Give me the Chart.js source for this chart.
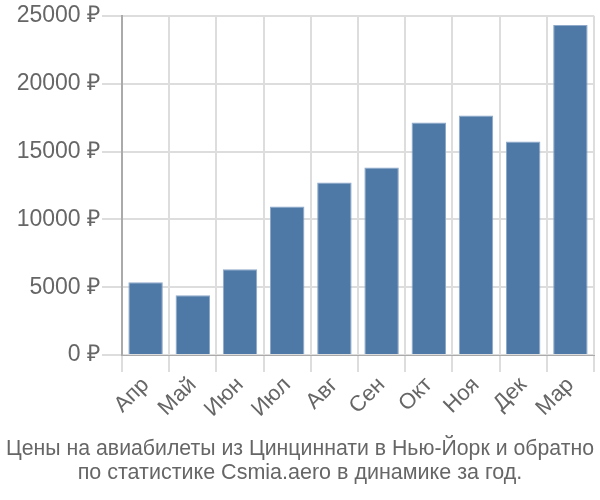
<!DOCTYPE html>
<html>
<head>
<meta charset="utf-8">
<script src="https://cdn.jsdelivr.net/npm/chart.js@4/dist/chart.umd.min.js"></script>
<style>
  html, body { margin: 0; padding: 0; background: #fff; }
  #wrap { width: 600px; height: 500px; }
</style>
</head>
<body>
<div id="wrap"><canvas id="priceChart"></canvas></div>
<script>
const months = ['Апр', 'Май', 'Июн', 'Июл', 'Авг', 'Сен', 'Окт', 'Ноя', 'Дек', 'Мар'];
const prices = [5370, 4410, 6320, 10950, 12720, 13820, 17130, 17650, 15740, 24320];
const yTicks = [0, 5000, 10000, 15000, 20000, 25000];
const titleLines = [
    'Цены на авиабилеты из Цинциннати в Нью-Йорк и обратно',
    'по статистике Csmia.aero в динамике за год.'
];

const ctx = document.getElementById('priceChart').getContext('2d');
new Chart(ctx, {
    type: 'bar',
    data: {
        labels: months,
        datasets: [{
            data: prices,
            backgroundColor: '#4e79a7',
            borderColor: '#8ea9c9',
            borderWidth: { top: 1, left: 1, right: 1, bottom: 0 },
            barPercentage: 0.73,
            categoryPercentage: 1
        }]
    },
    options: {
        responsive: true,
        maintainAspectRatio: false,
        animation: false,
        layout: { padding: { left: 6, right: 6, top: 4, bottom: 0 } },
        plugins: {
            legend: { display: false },
            tooltip: { enabled: false },
            title: {
                display: true,
                position: 'bottom',
                text: titleLines,
                color: '#666',
                font: { family: 'Liberation Sans', size: 21.5, weight: 'normal', lineHeight: 1.16 },
                padding: { top: 4, bottom: 14 }
            }
        },
        scales: {
            x: {
                afterFit: (scale) => { scale.height = 77; },
                grid: { color: '#ddd', lineWidth: 2, offset: true, tickLength: 17 },
                border: { color: '#aaa' },
                ticks: {
                    color: '#666',
                    font: { family: 'Liberation Sans', size: 22 },
                    maxRotation: 45, minRotation: 45, padding: 0
                }
            },
            y: {
                min: 0, max: 25000,
                afterFit: (scale) => { scale.width = 116; },
                afterBuildTicks: (scale) => { scale.ticks = yTicks.map(v => ({ value: v })); },
                grid: { color: '#ddd', lineWidth: 2, tickLength: 20 },
                border: { color: '#aaa', width: 2 },
                ticks: {
                    color: '#666',
                    font: { family: 'Liberation Sans', size: 23 },
                    padding: 2,
                    callback: (v) => v + ' ₽'
                }
            }
        }
    }
});
</script>
</body>
</html>
